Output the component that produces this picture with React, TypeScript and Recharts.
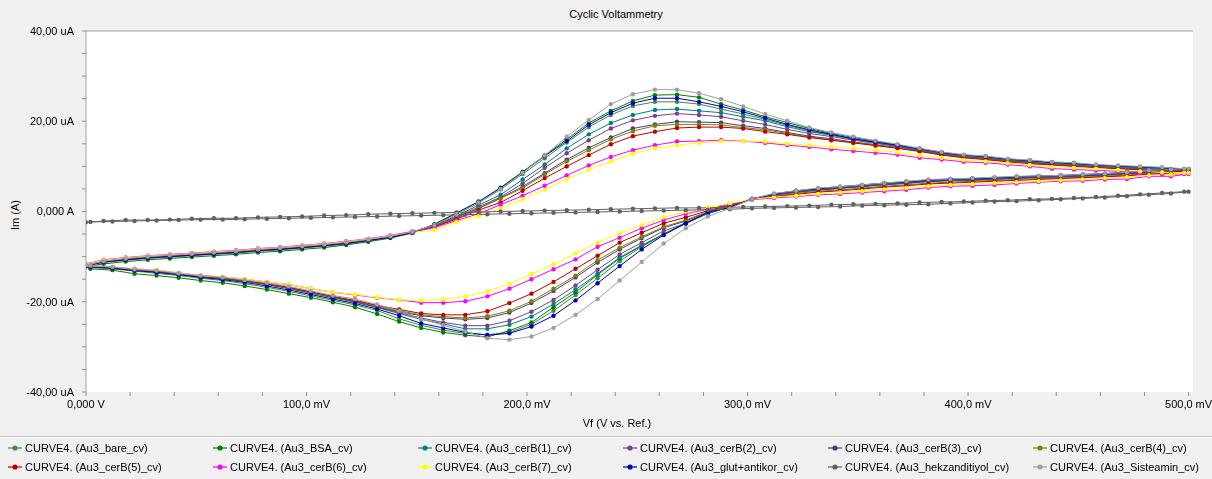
import React from 'react';
import { LineChart, Line, XAxis, YAxis, CartesianGrid, ReferenceLine } from 'recharts';

// potential steps (mV): forward sweep 0 -> 500, reverse sweep 500 -> 0
const FWD_MV = [0, 8, 18, 28, 38, 48, 58, 68, 78, 88, 98, 108, 118, 128, 138, 148, 158, 168, 178, 188, 198, 208, 218, 228, 238, 248, 258, 268, 278, 288, 298, 308, 318, 328, 338, 348, 358, 368, 378, 388, 398, 408, 418, 428, 438, 448, 458, 468, 478, 488, 498];
const REV_MV = [500, 492, 482, 472, 462, 452, 442, 432, 422, 412, 402, 392, 382, 372, 362, 352, 342, 332, 322, 312, 302, 292, 282, 272, 262, 252, 242, 232, 222, 212, 202, 192, 182, 172, 162, 152, 142, 132, 122, 112, 102, 92, 82, 72, 62, 52, 42, 32, 22, 12, 2];

// current (uA)
const BARE_FWD = [-12.0, -11.3, -10.8, -10.4, -10.1, -9.8, -9.5, -9.2, -8.8, -8.5, -8.1, -7.7, -7.2, -6.5, -5.7, -4.7, -3.0, -0.6, 1.9, 4.9, 8.3, 11.8, 15.3, 18.7, 21.4, 23.4, 24.3, 24.3, 23.8, 22.7, 21.6, 20.4, 19.1, 17.9, 17.0, 16.1, 15.3, 14.6, 13.8, 13.0, 12.4, 12.0, 11.5, 11.1, 10.8, 10.5, 10.2, 9.9, 9.7, 9.5, 9.3];
const BARE_REV = [9.3, 9.1, 8.8, 8.5, 8.2, 8.0, 7.8, 7.7, 7.5, 7.3, 7.1, 7.0, 6.8, 6.4, 6.1, 5.7, 5.3, 4.9, 4.4, 3.8, 2.8, 1.0, -0.3, -2.4, -5.1, -7.8, -11.0, -14.8, -18.5, -22.0, -25.0, -26.8, -27.3, -27.0, -26.3, -25.2, -23.8, -21.9, -20.7, -19.7, -18.7, -17.7, -16.8, -16.0, -15.3, -14.8, -14.2, -13.7, -13.2, -12.7, -12.4];

const BSA_FWD = [-12.2, -11.6, -11.1, -10.7, -10.4, -10.1, -9.8, -9.5, -9.1, -8.8, -8.4, -8.0, -7.4, -6.7, -5.9, -4.8, -2.8, -0.3, 2.2, 5.3, 8.8, 12.4, 16.0, 19.6, 22.3, 24.5, 25.8, 25.9, 25.3, 23.8, 22.5, 21.0, 19.7, 18.4, 17.3, 16.4, 15.6, 14.8, 13.9, 13.1, 12.5, 12.1, 11.6, 11.2, 10.9, 10.6, 10.3, 10.0, 9.8, 9.6, 9.4];
const BSA_REV = [9.4, 9.2, 8.9, 8.6, 8.3, 8.1, 7.9, 7.8, 7.6, 7.4, 7.2, 7.1, 6.9, 6.5, 6.2, 5.8, 5.4, 5.0, 4.5, 3.8, 2.8, 1.0, -0.4, -2.7, -5.0, -7.6, -10.4, -14.0, -17.9, -21.2, -24.6, -26.4, -27.8, -27.4, -26.8, -25.8, -24.4, -22.7, -21.2, -20.1, -19.1, -18.2, -17.3, -16.5, -15.8, -15.3, -14.7, -14.2, -13.8, -13.0, -12.7];

const CERB1_FWD = [-11.9, -11.0, -10.5, -10.1, -9.8, -9.5, -9.2, -8.9, -8.5, -8.2, -7.8, -7.4, -6.9, -6.3, -5.6, -4.6, -3.1, -1.0, 1.4, 3.7, 7.1, 10.4, 14.0, 17.1, 19.6, 21.4, 22.5, 22.7, 22.3, 21.9, 21.0, 20.1, 18.8, 17.7, 16.9, 16.0, 15.2, 14.5, 13.7, 12.9, 12.3, 11.9, 11.4, 11.0, 10.7, 10.4, 10.1, 9.8, 9.6, 9.4, 9.2];
const CERB1_REV = [9.2, 9.0, 8.7, 8.4, 8.1, 7.9, 7.7, 7.6, 7.4, 7.2, 7.0, 6.9, 6.7, 6.3, 6.0, 5.6, 5.2, 4.8, 4.3, 3.7, 2.8, 1.1, -0.5, -2.5, -5.0, -7.5, -10.2, -13.8, -17.3, -20.5, -23.3, -25.1, -26.0, -26.0, -24.9, -23.9, -22.6, -21.3, -20.1, -19.1, -18.1, -17.1, -16.2, -15.5, -14.9, -14.5, -13.9, -13.4, -13.0, -12.5, -12.2];

const CERB2_FWD = [-11.9, -10.9, -10.4, -10.0, -9.7, -9.4, -9.1, -8.8, -8.4, -8.1, -7.7, -7.3, -6.8, -6.2, -5.5, -4.6, -3.2, -1.2, 1.0, 3.2, 6.2, 9.7, 12.9, 15.8, 18.4, 20.2, 21.2, 21.7, 21.4, 21.0, 20.1, 19.3, 18.2, 17.3, 16.6, 15.8, 15.1, 14.4, 13.6, 12.8, 12.2, 11.8, 11.3, 10.9, 10.6, 10.3, 10.0, 9.7, 9.5, 9.3, 9.1];
const CERB2_REV = [9.1, 8.9, 8.6, 8.3, 8.0, 7.8, 7.6, 7.5, 7.3, 7.1, 6.9, 6.8, 6.6, 6.2, 5.9, 5.5, 5.1, 4.7, 4.2, 3.6, 2.8, 1.2, -0.3, -2.6, -4.3, -6.9, -9.5, -12.9, -16.4, -19.6, -22.2, -24.2, -25.3, -25.3, -24.6, -23.6, -22.4, -21.2, -20.0, -19.0, -18.0, -17.0, -16.1, -15.4, -14.8, -14.4, -13.9, -13.3, -12.9, -12.5, -12.2];

const CERB3_FWD = [-11.9, -11.0, -10.5, -10.1, -9.8, -9.5, -9.2, -8.9, -8.5, -8.2, -7.8, -7.4, -6.9, -6.3, -5.6, -4.6, -3.3, -1.4, 0.7, 3.0, 5.5, 8.5, 11.5, 14.1, 16.4, 18.4, 19.3, 19.9, 19.8, 19.7, 19.0, 18.4, 17.5, 16.7, 16.1, 15.4, 14.8, 14.2, 13.5, 12.7, 12.1, 11.7, 11.2, 10.8, 10.5, 10.2, 9.9, 9.6, 9.4, 9.2, 9.0];
const CERB3_REV = [9.2, 9.0, 8.7, 8.4, 8.1, 7.9, 7.7, 7.6, 7.4, 7.2, 7.0, 6.9, 6.7, 6.3, 6.0, 5.6, 5.2, 4.8, 4.3, 3.7, 2.8, 1.3, -0.1, -2.1, -3.6, -5.9, -8.4, -11.3, -14.6, -17.6, -20.3, -22.4, -23.6, -23.9, -23.6, -23.1, -22.2, -21.1, -19.9, -19.0, -18.0, -17.0, -16.1, -15.4, -14.8, -14.4, -13.8, -13.3, -12.9, -12.5, -12.2];

const CERB4_FWD = [-11.9, -10.9, -10.4, -10.0, -9.7, -9.4, -9.1, -8.8, -8.4, -8.1, -7.7, -7.3, -6.8, -6.2, -5.5, -4.6, -3.3, -1.5, 0.6, 2.9, 5.2, 8.2, 11.1, 13.6, 16.0, 17.8, 19.0, 19.3, 19.3, 19.2, 18.6, 18.1, 17.3, 16.5, 15.9, 15.3, 14.7, 14.1, 13.4, 12.6, 12.0, 11.6, 11.1, 10.7, 10.4, 10.1, 9.8, 9.6, 9.3, 9.1, 8.9];
const CERB4_REV = [8.9, 8.7, 8.4, 8.1, 7.8, 7.6, 7.4, 7.3, 7.1, 6.9, 6.7, 6.5, 6.3, 5.9, 5.6, 5.2, 4.8, 4.5, 4.0, 3.4, 2.7, 1.3, 0.0, -1.9, -3.4, -5.6, -8.0, -10.8, -14.2, -17.1, -19.9, -22.0, -23.2, -23.6, -23.3, -22.9, -22.0, -21.0, -19.8, -18.9, -17.9, -16.9, -16.0, -15.3, -14.7, -14.3, -13.8, -13.2, -12.9, -12.4, -12.2];

const CERB5_FWD = [-12.0, -11.1, -10.6, -10.2, -9.9, -9.6, -9.3, -9.0, -8.6, -8.3, -7.9, -7.5, -7.0, -6.4, -5.7, -4.7, -3.4, -1.7, 0.3, 2.0, 4.6, 7.4, 10.0, 12.5, 14.9, 16.7, 17.7, 18.5, 18.7, 18.7, 18.4, 17.7, 17.1, 16.4, 15.8, 15.2, 14.6, 14.0, 13.3, 12.5, 11.9, 11.5, 11.0, 10.6, 10.3, 10.0, 9.7, 9.5, 9.2, 9.0, 8.8];
const CERB5_REV = [8.8, 8.5, 8.3, 7.9, 7.7, 7.5, 7.3, 7.1, 6.9, 6.7, 6.5, 6.3, 6.1, 5.7, 5.4, 5.0, 4.6, 4.3, 3.8, 3.3, 2.7, 1.4, 0.2, -1.3, -2.6, -4.7, -6.9, -9.8, -12.7, -15.6, -18.2, -20.3, -22.1, -22.9, -22.9, -22.6, -21.7, -20.8, -19.7, -18.8, -17.8, -16.8, -16.0, -15.3, -14.7, -14.3, -13.7, -13.2, -12.8, -12.4, -12.1];

const CERB6_FWD = [-11.6, -10.7, -10.2, -9.8, -9.5, -9.2, -8.9, -8.6, -8.2, -7.9, -7.5, -7.1, -6.6, -6.0, -5.3, -4.4, -3.6, -2.0, -0.5, 1.5, 3.5, 5.7, 8.0, 10.2, 12.1, 13.6, 14.7, 15.5, 15.6, 15.8, 15.6, 15.2, 14.7, 14.3, 13.8, 13.4, 13.0, 12.6, 11.9, 11.5, 11.0, 10.8, 10.4, 10.0, 9.5, 9.3, 9.1, 8.9, 8.5, 8.2, 8.3];
const CERB6_REV = [8.3, 7.8, 7.8, 7.2, 7.1, 6.8, 6.7, 6.5, 6.2, 5.9, 5.7, 5.6, 5.3, 4.8, 4.5, 4.2, 3.9, 3.7, 3.3, 3.0, 2.6, 1.6, 0.5, -0.5, -1.9, -3.7, -5.8, -7.8, -10.6, -12.8, -15.0, -17.1, -18.8, -19.9, -20.2, -20.2, -19.6, -19.1, -18.5, -17.9, -17.1, -16.2, -15.6, -15.0, -14.5, -14.2, -13.6, -13.0, -12.7, -12.3, -12.0];

const CERB7_FWD = [-11.7, -10.8, -10.3, -9.9, -9.6, -9.3, -9.0, -8.7, -8.3, -8.0, -7.6, -7.2, -6.7, -6.1, -5.4, -4.6, -4.1, -2.3, -1.1, 0.7, 2.7, 4.8, 7.2, 9.3, 11.1, 12.8, 14.0, 14.7, 15.2, 15.6, 15.6, 15.5, 15.0, 14.7, 14.3, 14.0, 13.6, 13.1, 12.4, 11.9, 11.4, 11.1, 10.7, 10.3, 9.9, 9.7, 9.5, 9.2, 8.9, 8.7, 8.6];
const CERB7_REV = [8.6, 8.2, 8.0, 7.6, 7.4, 7.1, 6.9, 6.7, 6.5, 6.3, 6.1, 5.9, 5.6, 5.2, 4.9, 4.5, 4.2, 3.9, 3.5, 3.2, 2.7, 1.8, 0.9, 0.0, -1.3, -3.0, -4.8, -6.9, -9.3, -11.7, -13.9, -16.0, -17.7, -18.8, -19.5, -19.7, -19.6, -19.0, -18.4, -17.9, -17.1, -16.2, -15.6, -15.0, -14.5, -14.2, -13.6, -13.0, -12.7, -12.3, -12.1];

const GLUT_FWD = [-12.0, -11.2, -10.7, -10.3, -10.0, -9.7, -9.4, -9.1, -8.7, -8.4, -8.0, -7.6, -7.1, -6.4, -5.7, -4.6, -2.9, -0.4, 2.1, 5.2, 8.7, 12.3, 15.6, 19.2, 21.9, 24.0, 25.1, 25.1, 24.3, 23.3, 22.1, 20.7, 19.3, 18.1, 17.1, 16.1, 15.4, 14.7, 13.9, 13.1, 12.5, 12.2, 11.6, 11.3, 10.9, 10.7, 10.3, 10.1, 9.9, 9.7, 9.4];
const GLUT_REV = [9.4, 9.3, 9.0, 8.7, 8.4, 8.2, 8.0, 7.9, 7.7, 7.5, 7.3, 7.2, 7.0, 6.6, 6.3, 5.9, 5.5, 5.1, 4.6, 3.9, 2.8, 0.9, -0.2, -2.6, -5.2, -8.4, -12.1, -15.9, -19.7, -23.1, -25.5, -27.0, -27.4, -26.8, -25.8, -24.8, -23.1, -21.6, -20.4, -19.4, -18.4, -17.4, -16.5, -15.7, -15.1, -14.6, -14.0, -13.5, -13.1, -12.6, -12.3];

const HEKZ_FWD = [-2.4, -2.1, -1.9, -1.9, -1.8, -1.6, -1.5, -1.5, -1.3, -1.2, -1.1, -0.9, -0.8, -0.6, -0.5, -0.4, -0.3, -0.2, -0.1, 0.0, 0.1, 0.2, 0.3, 0.4, 0.5, 0.6, 0.7, 0.8, 0.8, 0.9, 1.0, 1.1, 1.2, 1.3, 1.5, 1.6, 1.7, 1.8, 2.0, 2.1, 2.2, 2.4, 2.5, 2.7, 2.8, 3.0, 3.2, 3.5, 3.8, 4.1, 4.4];
const HEKZ_REV = [4.4, 4.0, 3.7, 3.4, 3.1, 2.9, 2.7, 2.5, 2.3, 2.2, 2.0, 1.8, 1.6, 1.5, 1.4, 1.3, 1.1, 1.0, 0.9, 0.8, 0.7, 0.5, 0.4, 0.3, 0.2, 0.1, 0.0, -0.1, -0.2, -0.3, -0.4, -0.5, -0.6, -0.7, -0.8, -0.9, -1.0, -1.1, -1.2, -1.3, -1.4, -1.5, -1.6, -1.7, -1.8, -1.8, -1.9, -2.0, -2.1, -2.2, -2.3];

const SIST_FWD = [-11.9, -11.0, -10.4, -10.0, -9.7, -9.4, -9.1, -8.8, -8.4, -8.1, -7.7, -7.3, -6.8, -6.2, -5.5, -4.5, -3.0, -0.6, 2.0, 5.0, 8.6, 12.4, 16.6, 20.3, 23.8, 26.0, 27.0, 27.0, 26.2, 24.9, 23.3, 21.6, 20.1, 18.6, 17.5, 16.6, 15.7, 14.9, 14.0, 13.2, 12.6, 12.3, 11.7, 11.4, 11.0, 10.8, 10.4, 10.2, 10.0, 9.8, 9.5];
const SIST_REV = [9.5, 9.3, 9.1, 8.7, 8.4, 8.2, 8.0, 7.9, 7.8, 7.6, 7.4, 7.2, 7.1, 6.7, 6.3, 5.9, 5.5, 5.2, 4.6, 4.0, 2.8, 0.7, -1.1, -3.7, -7.1, -11.2, -15.3, -19.4, -22.9, -25.8, -27.7, -28.4, -28.1, -26.6, -25.2, -23.8, -22.0, -20.6, -19.4, -18.6, -17.6, -16.6, -15.8, -15.2, -14.6, -14.2, -13.7, -13.1, -12.8, -12.3, -12.0];

const X_TICKS = [0, 20, 40, 60, 80, 100, 120, 140, 160, 180, 200, 220, 240, 260, 280, 300, 320, 340, 360, 380, 400, 420, 440, 460, 480, 500];
const Y_TICKS = [-40, -35, -30, -25, -20, -15, -10, -5, 0, 5, 10, 15, 20, 25, 30, 35, 40];
const X_LABELS: Record<number, string> = { 0: '0,000 V', 100: '100,0 mV', 200: '200,0 mV', 300: '300,0 mV', 400: '400,0 mV', 500: '500,0 mV' };
const Y_LABELS: Record<number, string> = { 40: '40,00 uA', 20: '20,00 uA', 0: '0,000 A', '-20': '-20,00 uA', '-40': '-40,00 uA' };

const CURVES = [
  { name: 'CURVE4. (Au3_bare_cv)', color: '#408a40', fwd: BARE_FWD, rev: BARE_REV },
  { name: 'CURVE4. (Au3_BSA_cv)', color: '#008000', fwd: BSA_FWD, rev: BSA_REV },
  { name: 'CURVE4. (Au3_cerB(1)_cv)', color: '#008080', fwd: CERB1_FWD, rev: CERB1_REV },
  { name: 'CURVE4. (Au3_cerB(2)_cv)', color: '#804080', fwd: CERB2_FWD, rev: CERB2_REV },
  { name: 'CURVE4. (Au3_cerB(3)_cv)', color: '#404080', fwd: CERB3_FWD, rev: CERB3_REV },
  { name: 'CURVE4. (Au3_cerB(4)_cv)', color: '#808000', fwd: CERB4_FWD, rev: CERB4_REV },
  { name: 'CURVE4. (Au3_cerB(5)_cv)', color: '#c00000', fwd: CERB5_FWD, rev: CERB5_REV },
  { name: 'CURVE4. (Au3_cerB(6)_cv)', color: '#ff00ff', fwd: CERB6_FWD, rev: CERB6_REV },
  { name: 'CURVE4. (Au3_cerB(7)_cv)', color: '#ffff00', fwd: CERB7_FWD, rev: CERB7_REV },
  { name: 'CURVE4. (Au3_glut+antikor_cv)', color: '#0000c0', fwd: GLUT_FWD, rev: GLUT_REV },
  { name: 'CURVE4. (Au3_hekzanditiyol_cv)', color: '#606060', fwd: HEKZ_FWD, rev: HEKZ_REV },
  { name: 'CURVE4. (Au3_Sisteamin_cv)', color: '#a0a0a0', fwd: SIST_FWD, rev: SIST_REV },
];

const FONT = '"Liberation Sans", Arial, sans-serif';

// one closed loop per curve: forward points then reverse points
const loop = (fwd: number[], rev: number[]) => [
  ...FWD_MV.map((x, i) => ({ x, y: fwd[i] })),
  ...REV_MV.map((x, i) => ({ x, y: rev[i] })),
];

const LegendIcon = ({ color }: { color: string }) => (
  <svg width={15} height={8} style={{ marginRight: 2 }}>
    <line x1={0} y1={4} x2={14} y2={4} stroke={color} strokeWidth={1.2} />
    <circle cx={7} cy={4} r={2.6} fill={color} />
  </svg>
);

export default function App() {
  return (
    <div style={{ position: 'fixed', left: 0, top: 0, width: 1212, height: 479, background: '#f0f0f0', fontFamily: FONT, color: '#000' }}>
      <div style={{ position: 'absolute', top: 8, left: 0, width: 1232, textAlign: 'center', fontSize: 11 }}>
        Cyclic Voltammetry
      </div>
      <div style={{ position: 'absolute', left: 8, top: 215, transform: 'translate(-50%, -50%) rotate(-90deg)', marginLeft: 7, fontSize: 11, whiteSpace: 'nowrap' }}>
        Im (A)
      </div>
      <div style={{ position: 'absolute', top: 417, left: 0, width: 1234, textAlign: 'center', fontSize: 11 }}>
        Vf (V vs. Ref.)
      </div>

      <div style={{ position: 'absolute', left: 0, top: 0 }}>
        <LineChart width={1212} height={437} margin={{ top: 31, right: 19, bottom: 0, left: 0 }}>
          <CartesianGrid fill="#ffffff" stroke="none" />
          <XAxis
            type="number"
            dataKey="x"
            domain={[0, 502]}
            ticks={X_TICKS}
            allowDataOverflow
            height={45}
            tickSize={4}
            tickMargin={4}
            axisLine={false}
            tickLine={{ stroke: '#909090' }}
            tick={{ fontSize: 11, fill: '#000', fontFamily: FONT }}
            tickFormatter={(v: number) => X_LABELS[v] ?? ''}
            interval={0}
          />
          <YAxis
            type="number"
            dataKey="y"
            domain={[-40, 40]}
            ticks={Y_TICKS}
            width={86}
            tickSize={4}
            tickMargin={8}
            axisLine={{ stroke: '#a0a0a0' }}
            tickLine={{ stroke: '#909090' }}
            tick={{ fontSize: 11, fill: '#000', fontFamily: FONT }}
            tickFormatter={(v: number) => Y_LABELS[v] ?? ''}
            interval={0}
          />
          <ReferenceLine y={40} stroke="#a0a0a0" />
          {CURVES.map((c) => (
            <Line
              key={c.name}
              data={loop(c.fwd, c.rev)}
              dataKey="y"
              name={c.name}
              type="linear"
              stroke={c.color}
              strokeWidth={1}
              dot={{ r: 2.2, fill: c.color, stroke: c.color, strokeWidth: 0 }}
              isAnimationActive={false}
            />
          ))}
        </LineChart>
      </div>

      <div style={{ position: 'absolute', left: 0, top: 436, width: 1212, borderTop: '1px solid #c8c8c8', borderBottom: '1px solid #ffffff' }} />
      <div style={{ position: 'absolute', left: 8, top: 440, display: 'grid', gridTemplateColumns: 'repeat(6, 205px)', rowGap: 3, fontSize: 11 }}>
        {CURVES.map((c) => (
          <div key={c.name} style={{ display: 'flex', alignItems: 'center', height: 16, whiteSpace: 'nowrap' }}>
            <LegendIcon color={c.color} />
            {c.name}
          </div>
        ))}
      </div>
    </div>
  );
}
